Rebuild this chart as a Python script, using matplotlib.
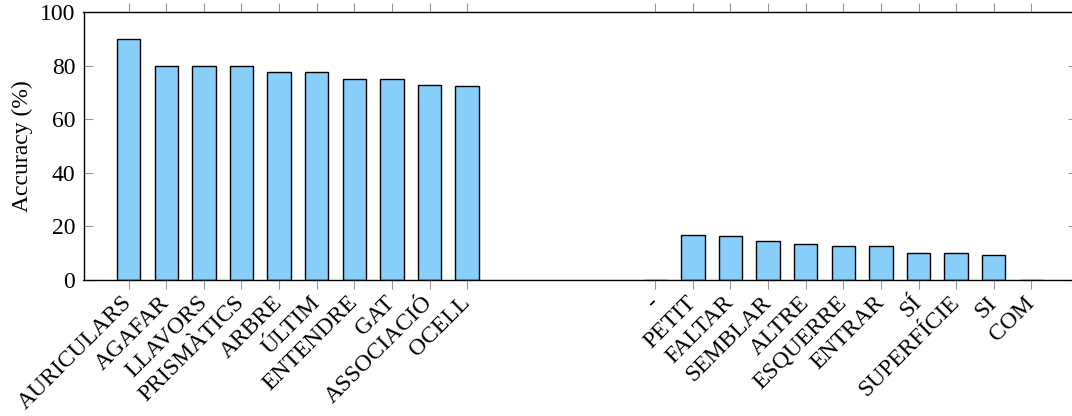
import numpy as np
import matplotlib
matplotlib.use("Agg")
from matplotlib import pyplot as plt

# Data
words_top = ["AURICULARS", "AGAFAR", "LLAVORS", "PRISMÀTICS", "ARBRE",
             "ÚLTIM", "ENTENDRE", "GAT", "ASSOCIACIÓ", "OCELL"]
acc_top = [90.0, 80.0, 80.0, 80.0, 77.8, 77.8, 75.0, 75.0, 72.7, 72.5]

words_low = ["-", "PETIT", "FALTAR", "SEMBLAR", "ALTRE", "ESQUERRE",
             "ENTRAR", "SÍ", "SUPERFÍCIE", "SI", "COM"]
acc_low = [0.0, 16.7, 16.1, 14.3, 13.3, 12.5, 12.5, 10.0, 10.0, 9.1, 0.0]

gap = 4  # empty slots between the two groups
y_ticks = [0, 20, 40, 60, 80, 100]

plt.rcParams['font.family'] = ['Liberation Serif', 'DejaVu Serif']
plt.rcParams['font.size'] = 17

x_top = np.arange(len(words_top))
x_low = np.arange(len(words_low)) + len(words_top) + gap
xs = np.concatenate([x_top, x_low])
labels = words_top + words_low
vals = acc_top + acc_low

fig = plt.figure(figsize=(10.72, 4.16), dpi=100)
ax = fig.add_axes([83.5 / 1072, 1 - 279.5 / 416,
                   (1076.5 - 83.5) / 1072, (279.5 - 12.3) / 416])

ax.bar(xs, vals, width=0.62, color='#87CEFA', edgecolor='black',
       linewidth=1.0, zorder=2)

ax.set_xlim(-1.2, xs[-1] + 1.2)
ax.set_ylim(0, 100)
ax.set_yticks(y_ticks)
ax.set_xticks(xs)
ax.set_xticklabels(labels, rotation=45, ha='right', va='center',
                   rotation_mode='anchor', fontsize=17)

ax.tick_params(axis='x', direction='out', length=6.5, width=0.8,
               color='#999999', top=True, bottom=True, pad=8)
ax.tick_params(axis='y', direction='in', length=6.5, width=0.8,
               color='#999999', left=True, right=True, pad=6)
for sp in ax.spines.values():
    sp.set_linewidth(1.0)
    sp.set_color('black')

ax.set_ylabel("Accuracy (%)", labelpad=5)

fig.savefig("out.png", dpi=100)
